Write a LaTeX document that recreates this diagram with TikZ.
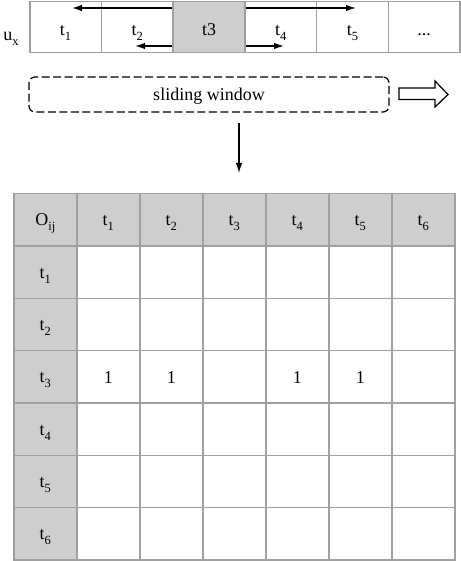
\documentclass[tikz,border=0pt]{standalone}
\usepackage{fontspec}
\setmainfont{Liberation Serif}
\usetikzlibrary{arrows.meta}
\definecolor{cellgrey}{RGB}{206,206,206}
\definecolor{linegrey}{RGB}{160,160,160}
\newcommand\sbx[2]{#1\raisebox{-5pt}{\fontsize{12.5}{12.5}\selectfont #2}}
\begin{document}
\begin{tikzpicture}[x=1pt,y=-1pt,
  every node/.style={font=\fontsize{18}{20}\selectfont},
  topcell/.style={draw=linegrey, line width=1.5pt, minimum width=71.7pt,
    minimum height=51pt, inner sep=0pt, anchor=north west,
    text height=16pt, text depth=0pt},
  mcell/.style={draw=linegrey, line width=1.5pt, minimum width=63pt,
    minimum height=52.3pt, inner sep=0pt, anchor=north west,
    text height=12pt, text depth=0pt},
  val/.style={inner sep=0pt, text height=13pt, text depth=0pt},
  arr/.style={line width=1.4pt, -{Latex[length=10pt,width=6.5pt]}},
  window/.style={draw, dashed, dash pattern=on 8pt off 3.5pt, line width=1.2pt,
    rounded corners=6pt, minimum width=360pt, minimum height=35pt,
    inner sep=0pt, text height=12pt, text depth=0pt}]
\useasboundingbox (0,0) rectangle (460,561);

% top row
\node[inner sep=0pt, anchor=base] (ux) at (11,41) {\sbx{u}{x}};
\node[topcell] (c1) at (29,1) {\sbx{t}{1}};
\node[topcell] (c2) at (100.7,1) {\sbx{t}{2}};
\node[topcell, fill=cellgrey] (c3) at (172.4,1) {t3};
\node[topcell] (c4) at (244.1,1) {\sbx{t}{4}};
\node[topcell] (c5) at (315.8,1) {\sbx{t}{5}};
\node[topcell] (c6) at (387.5,1) {...};

\coordinate (ua) at (72,8);
\coordinate (ub) at (356,8);
\coordinate (la) at (135,46);
\coordinate (lb) at (284,46);
\draw[arr] (c3.north west |- ua) -- (ua);
\draw[arr] (c3.north east |- ub) -- (ub);
\draw[arr] (c3.north west |- la) -- (la);
\draw[arr] (c3.north east |- lb) -- (lb);

% sliding window
\node[window] (win) at (209,94.5) {sliding window};
\draw[line width=1.2pt, line join=miter] (399,88) -- (435,88) -- (435,81) -- (448,94.5)
  -- (435,107) -- (435,99.5) -- (399,99.5) -- cycle;

\coordinate (dtop) at (239,123);
\coordinate (dbot) at (239,173);
\draw[arr, line width=1.2pt] (dtop) -- (dbot);

% matrix
\node[mcell, fill=cellgrey] (h0) at (13,193) {\sbx{O}{ij}};
\foreach \c in {1,...,6} {
  \node[mcell, fill=cellgrey] (h\c) at ({13+63*\c},193) {\sbx{t}{\c}};
}
\foreach \r in {1,...,6} {
  \node[mcell, fill=cellgrey] (r\r) at (13,{193+52.3*\r}) {\sbx{t}{\r}};
  \foreach \c in {1,...,6} {
    \node[mcell] (m\r\c) at ({13+63*\c},{193+52.3*\r}) {};
  }
}
\node[val] (v1) at (m31) {1};
\node[val] (v2) at (m32) {1};
\node[val] (v4) at (m34) {1};
\node[val] (v5) at (m35) {1};
\end{tikzpicture}
\end{document}
